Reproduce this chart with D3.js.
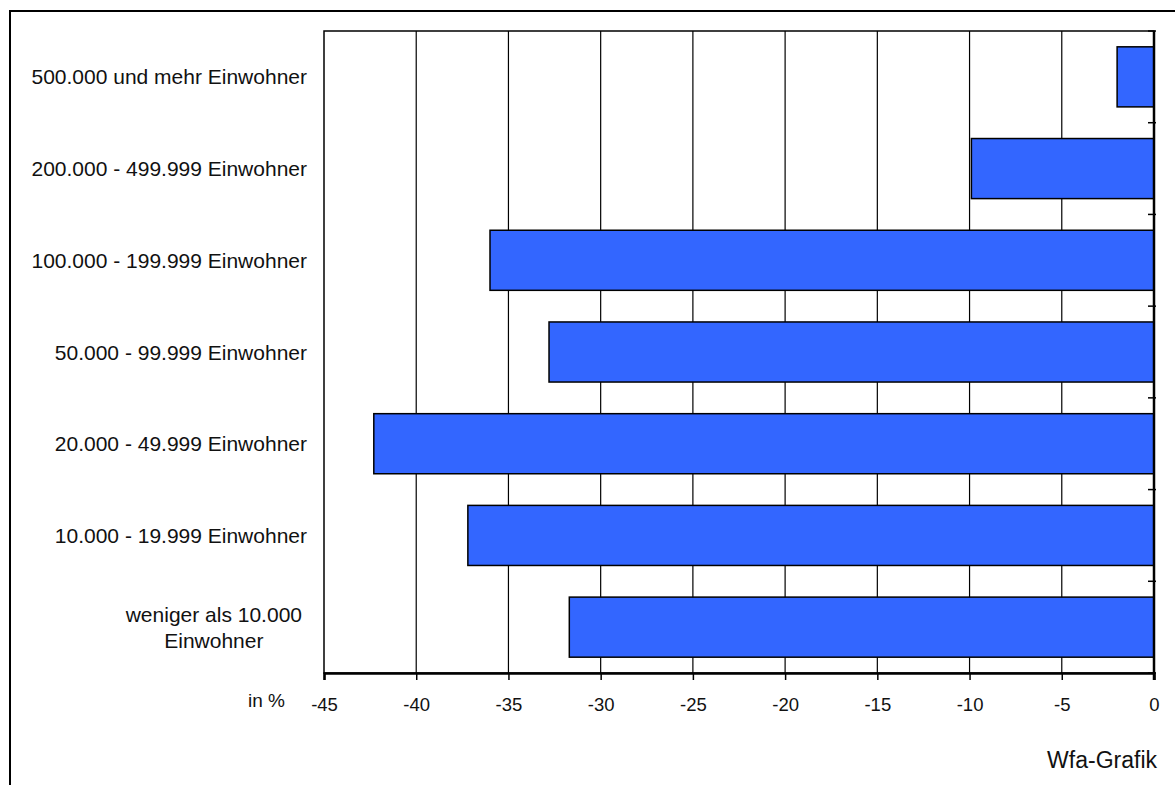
<!DOCTYPE html>
<html>
<head>
<meta charset="utf-8">
<script src="https://cdn.jsdelivr.net/npm/d3@7"></script>
<style>
  html, body { margin: 0; padding: 0; background: #fff; }
  svg { display: block; }
  text { font-family: "Liberation Sans", Arial, sans-serif; fill: #111; }
</style>
</head>
<body>
<svg id="chart" width="1175" height="785"></svg>
<script>
// Veränderung nach Gemeindegrößenklassen, in %
const categories = [
  "500.000 und mehr Einwohner",
  "200.000 - 499.999 Einwohner",
  "100.000 - 199.999 Einwohner",
  "50.000 - 99.999 Einwohner",
  "20.000 - 49.999 Einwohner",
  "10.000 - 19.999 Einwohner",
  "weniger als 10.000\nEinwohner"
];
const values = [-2.0, -9.9, -36.0, -32.8, -42.3, -37.2, -31.7];
const xTickValues = [-45, -40, -35, -30, -25, -20, -15, -10, -5, 0];
const unitLabel = "in %";
const sourceLabel = "Wfa-Grafik";

const svg = d3.select("#chart");
const plot = { left: 324, right: 1154, top: 31, bottom: 673 };

const x = d3.scaleLinear().domain([-45, 0]).range([plot.left, plot.right]);
const y = d3.scaleBand()
  .domain(categories)
  .range([plot.top, plot.bottom])
  .paddingInner(0.345)
  .paddingOuter(0.1725);

// outer frame (continues past the right and bottom edges)
svg.append("rect")
  .attr("x", 10).attr("y", 11)
  .attr("width", 1200).attr("height", 800)
  .attr("fill", "none").attr("stroke", "#000").attr("stroke-width", 2);

// plot area border
svg.append("rect")
  .attr("x", plot.left).attr("y", plot.top)
  .attr("width", plot.right - plot.left).attr("height", plot.bottom - plot.top)
  .attr("fill", "#fff").attr("stroke", "#000").attr("stroke-width", 1.5);

// vertical gridlines
svg.append("g")
  .selectAll("line")
  .data(xTickValues.filter(v => v > -45 && v < 0))
  .join("line")
  .attr("x1", d => x(d)).attr("x2", d => x(d))
  .attr("y1", plot.top).attr("y2", plot.bottom)
  .attr("stroke", "#000").attr("stroke-width", 1.2);

// bars
svg.append("g")
  .selectAll("rect")
  .data(categories.map((c, i) => ({ c, v: values[i] })))
  .join("rect")
  .attr("x", d => x(d.v))
  .attr("y", d => y(d.c))
  .attr("width", d => x(0) - x(d.v))
  .attr("height", y.bandwidth())
  .attr("fill", "#3366ff")
  .attr("stroke", "#000")
  .attr("stroke-width", 1.5);

// x axis
const xAxis = d3.axisBottom(x)
  .tickValues(xTickValues)
  .tickFormat(d3.format("d"))
  .tickSize(7)
  .tickPadding(18);
const gx = svg.append("g")
  .attr("transform", `translate(0,${plot.bottom})`)
  .call(xAxis);
gx.select(".domain").attr("stroke", "#000").attr("stroke-width", 2.5);
gx.selectAll(".tick line").attr("stroke", "#000").attr("stroke-width", 1.5);
gx.selectAll(".tick text")
  .text(d => d < 0 ? "-" + Math.abs(d) : String(d))
  .attr("font-size", 18.5).attr("fill", "#111")
  .style("font-family", '"Liberation Sans", Arial, sans-serif');

// zero axis with category ticks
const step = y.step();
const boundaries = d3.range(0, categories.length + 1).map(i => plot.top + i * step);
svg.append("line")
  .attr("x1", x(0)).attr("x2", x(0))
  .attr("y1", plot.top).attr("y2", plot.bottom + 7)
  .attr("stroke", "#000").attr("stroke-width", 2.5);
svg.append("g")
  .selectAll("line")
  .data(boundaries)
  .join("line")
  .attr("x1", x(0) - 6).attr("x2", x(0) + 2)
  .attr("y1", d => d).attr("y2", d => d)
  .attr("stroke", "#000").attr("stroke-width", 1.5);

// category labels
const labelRight = 307;
const lg = svg.append("g").attr("font-size", 21);
categories.forEach(c => {
  const lines = c.split("\n");
  const cy = y(c) + y.bandwidth() / 2;
  const lineH = 26;
  const t = lg.append("text")
    .attr("text-anchor", lines.length > 1 ? "middle" : "end")
    .attr("dominant-baseline", "central");
  if (lines.length === 1) {
    t.attr("x", labelRight).attr("y", cy).text(c);
  } else {
    // multi-line labels: lines centred in a block that is right-aligned
    const probe = lg.append("text");
    const w = d3.max(lines, l => { probe.text(l); return probe.node().getComputedTextLength(); });
    probe.remove();
    const cx = labelRight - 5 - w / 2;
    lines.forEach((l, i) => {
      t.append("tspan")
        .attr("x", cx)
        .attr("y", cy + (i - (lines.length - 1) / 2) * lineH)
        .text(l);
    });
  }
});

// unit and source labels
svg.append("text")
  .attr("x", 285).attr("y", 707)
  .attr("text-anchor", "end")
  .attr("font-size", 19)
  .text(unitLabel);
svg.append("text")
  .attr("x", 1157).attr("y", 768)
  .attr("text-anchor", "end")
  .attr("font-size", 23)
  .text(sourceLabel);
</script>
</body>
</html>
